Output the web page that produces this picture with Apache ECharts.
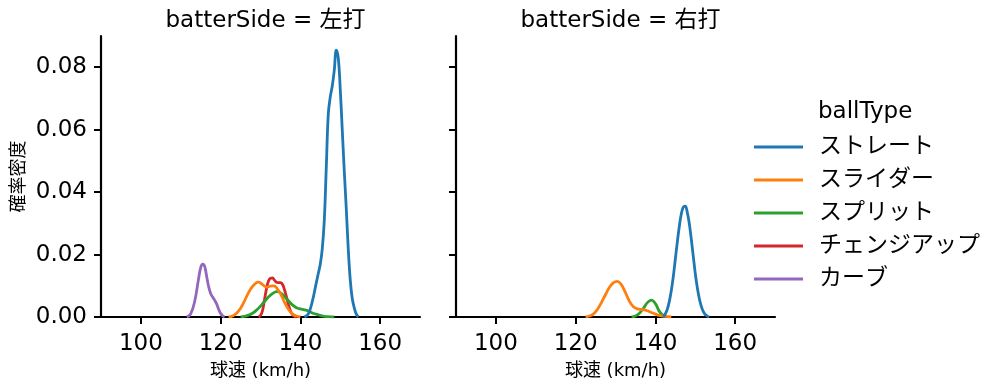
<!DOCTYPE html>
<html>
<head>
<meta charset="utf-8">
<script src="https://cdn.jsdelivr.net/npm/echarts@6/dist/echarts.min.js"></script>
<style>
html,body{margin:0;padding:0;background:#fff;}
#chart{width:999px;height:391px;}
</style>
</head>
<body>
<div id="chart"></div>
<script>
// ---- data ----
const panelTitles = ['batterSide = 左打', 'batterSide = 右打'];
const ballTypes = ['ストレート', 'スライダー', 'スプリット', 'チェンジアップ', 'カーブ'];
const colors = ['#1f77b4', '#ff7f0e', '#2ca02c', '#d62728', '#9467bd'];
const xTicks = [100, 120, 140, 160];
const yTicks = [0.00, 0.02, 0.04, 0.06, 0.08];

// Left panel (左打) KDE values [speed, density]
const leftStraight = [[141,0],[142,0.001],[143,0.005],[144,0.011],[144.5,0.014],[145,0.017],[145.5,0.022],[146,0.031],[146.5,0.048],[147,0.065],[147.5,0.0705],[148,0.074],[148.5,0.079],[149,0.0855],[149.5,0.083],[150,0.073],[150.5,0.06],[151,0.047],[151.5,0.035],[152,0.022],[152.5,0.012],[153,0.006],[153.5,0.003],[154,0.001],[154.5,0]];
const leftSlider = [[122,0],[123,0.0003],[124,0.0012],[125,0.0028],[126,0.0052],[127,0.0078],[128,0.0098],[129,0.011],[129.5,0.0112],[130,0.0109],[131,0.0099],[131.5,0.0096],[132,0.0097],[133,0.01],[133.5,0.0099],[134,0.0094],[135,0.0075],[136,0.0048],[137,0.0025],[138,0.001],[139,0.0003],[140,0]];
const leftSplit = [[125,0],[126,0.0002],[127,0.0006],[128,0.0012],[129,0.0022],[130,0.0035],[131,0.005],[132,0.0064],[133,0.0075],[134,0.0081],[134.5,0.0081],[135,0.0077],[136,0.0066],[137,0.0052],[138,0.0039],[139,0.003],[140,0.0026],[141,0.0023],[142,0.0019],[143,0.0013],[144,0.0009],[145,0.0005],[146,0.0002],[147,0.0001],[148.5,0]];
const leftChangeup = [[129.5,0],[130,0.0005],[130.5,0.002],[131,0.0055],[131.5,0.009],[132,0.0115],[132.5,0.0124],[133,0.0125],[133.5,0.0118],[134,0.0111],[134.5,0.011],[135,0.011],[135.5,0.0105],[136,0.0088],[136.5,0.0065],[137,0.004],[137.5,0.002],[138,0.0008],[138.5,0.0002],[139,0]];
const leftCurve = [[111.5,0],[112.5,0.001],[113.5,0.005],[114.5,0.0125],[115,0.0158],[115.5,0.0169],[116,0.0162],[116.5,0.013],[117,0.0097],[117.5,0.0075],[118,0.0064],[118.5,0.0054],[119,0.0042],[119.5,0.0025],[120,0.0011],[120.5,0.0004],[121,0]];

// Right panel (右打)
const rightStraight = [[142,0],[142.5,0.001],[143,0.0025],[143.5,0.005],[144,0.0085],[144.5,0.013],[145,0.0185],[145.5,0.024],[146,0.029],[146.5,0.033],[147,0.0352],[147.5,0.0355],[148,0.0335],[148.5,0.03],[149,0.025],[149.5,0.0195],[150,0.014],[150.5,0.0095],[151,0.006],[151.5,0.0035],[152,0.0018],[152.5,0.0008],[153,0.0003],[153.5,0]];
const rightSlider = [[122.5,0],[123.5,0.0003],[124.5,0.001],[125.5,0.0025],[126.5,0.0047],[127.5,0.0072],[128.5,0.0095],[129.5,0.011],[130.5,0.0114],[131.5,0.0103],[132.5,0.0078],[133.5,0.005],[134.5,0.0033],[135.5,0.0026],[136.5,0.0024],[137.5,0.0022],[138.5,0.0017],[139.5,0.0012],[140.5,0.0007],[141.5,0.0004],[142.5,0.0002],[144,0]];
const rightSplit = [[134,0],[135,0.0003],[136,0.0012],[137,0.0028],[138,0.0046],[139,0.0054],[140,0.0043],[141,0.0018],[142,0.0004],[142.5,0]];

const leftData = [leftStraight, leftSlider, leftSplit, leftChangeup, leftCurve];
const rightData = [rightStraight, rightSlider, rightSplit, null, null];

// ---- chart ----
const FONT = "'DejaVu Sans', 'Noto Sans CJK JP', sans-serif";
const chart = echarts.init(document.getElementById('chart'), null, {renderer: 'canvas'});

function xAxis(idx) {
  return {
    type: 'value', gridIndex: idx, min: 90, max: 170, interval: 20,
    axisLine: {show: true, onZero: false, lineStyle: {color: '#000', width: 2.2}},
    axisTick: {show: true, length: 7, lineStyle: {color: '#000', width: 2},
      customValues: xTicks},
    axisLabel: {show: true, color: '#000', fontFamily: FONT, fontSize: 23, margin: 16,
      customValues: xTicks},
    splitLine: {show: false},
    name: '球速 (km/h)', nameLocation: 'middle', nameGap: 45,
    nameTextStyle: {color: '#000', fontFamily: FONT, fontSize: 18}
  };
}
function yAxis(idx) {
  return {
    type: 'value', gridIndex: idx, min: 0, max: 0.09, interval: 0.02,
    axisLine: {show: true, onZero: false, lineStyle: {color: '#000', width: 2.2}},
    axisTick: {show: true, length: 7, lineStyle: {color: '#000', width: 2},
      customValues: yTicks},
    axisLabel: {show: idx === 0, color: '#000', fontFamily: FONT, fontSize: 23, margin: 14,
      customValues: yTicks,
      formatter: v => v.toFixed(2)},
    splitLine: {show: false},
    name: idx === 0 ? '確率密度' : '', nameLocation: 'middle', nameGap: 73, nameRotate: 90,
    nameTextStyle: {color: '#000', fontFamily: FONT, fontSize: 18}
  };
}

const series = [];
[leftData, rightData].forEach((arr, gi) => {
  arr.forEach((d, i) => {
    if (!d) return;
    series.push({
      name: ballTypes[i], type: 'line', xAxisIndex: gi, yAxisIndex: gi,
      data: d, smooth: 0.4, showSymbol: false, symbol: 'none',
      lineStyle: {color: colors[i], width: 2.8}, itemStyle: {color: colors[i]},
      z: 10 - i
    });
  });
});

chart.setOption({
  animation: false,
  backgroundColor: '#fff',
  color: colors,
  title: [
    {text: panelTitles[0], left: 260.5, top: 5, textAlign: 'center',
      textStyle: {fontFamily: FONT, fontSize: 23, fontWeight: 'normal', color: '#000'}},
    {text: panelTitles[1], left: 615.5, top: 5, textAlign: 'center',
      textStyle: {fontFamily: FONT, fontSize: 23, fontWeight: 'normal', color: '#000'}},
    {text: 'ballType', left: 813, top: 96,
      textStyle: {fontFamily: FONT, fontSize: 23, fontWeight: 'normal', color: '#000'}}
  ],
  grid: [
    {left: 101, top: 36, width: 319, height: 281},
    {left: 456, top: 36, width: 319, height: 281}
  ],
  xAxis: [xAxis(0), xAxis(1)],
  yAxis: [yAxis(0), yAxis(1)],
  legend: {
    data: ballTypes.map((n, i) => ({name: n, icon: 'rect', itemStyle: {color: colors[i]}})),
    orient: 'vertical', left: 749, top: 128,
    itemWidth: 49, itemHeight: 3, itemGap: 5,
    selectedMode: false,
    textStyle: {fontFamily: FONT, fontSize: 23, color: '#000', padding: [0, 0, 0, 11], lineHeight: 28}
  },
  series: series
});
</script>
</body>
</html>
